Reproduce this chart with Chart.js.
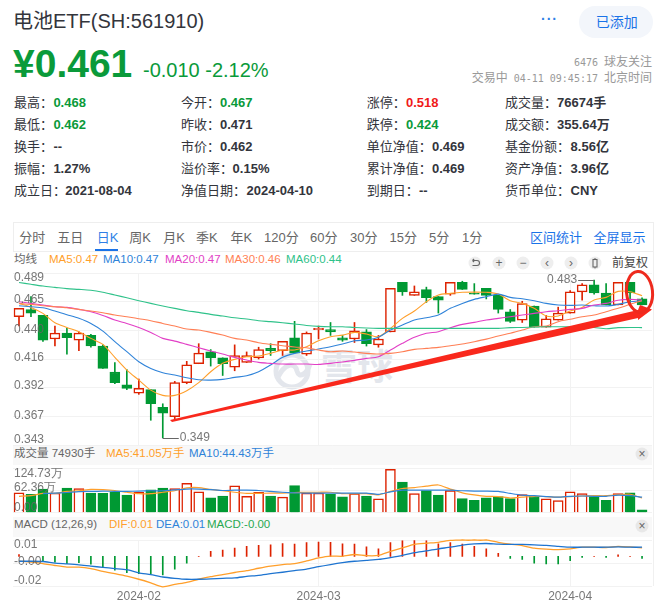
<!DOCTYPE html>
<html><head><meta charset="utf-8">
<script src="https://cdn.jsdelivr.net/npm/chart.js@4"></script>
<style>
html,body{margin:0;padding:0;background:#fff;width:669px;height:612px;overflow:hidden}
body{font-family:"Liberation Sans","Noto Sans CJK SC",sans-serif;color:#33353c;position:relative}
.t{position:absolute;white-space:nowrap;line-height:1;transform:translateY(-50%)}
canvas{position:absolute;left:0}
.ic{position:absolute;width:13px;height:13px;border-radius:50%;background:#eee;color:#666;font-size:12px;line-height:13px;text-align:center;transform:translate(-50%,-50%)}
</style></head><body>
<div id="ui"></div>
<script>
const dates=["2024-01-18","2024-01-19","2024-01-22","2024-01-23","2024-01-24","2024-01-25","2024-01-26","2024-01-29","2024-01-30","2024-01-31","2024-02-01","2024-02-02","2024-02-05","2024-02-06","2024-02-07","2024-02-08","2024-02-19","2024-02-20","2024-02-21","2024-02-22","2024-02-23","2024-02-26","2024-02-27","2024-02-28","2024-02-29","2024-03-01","2024-03-04","2024-03-05","2024-03-06","2024-03-07","2024-03-08","2024-03-11","2024-03-12","2024-03-13","2024-03-14","2024-03-15","2024-03-18","2024-03-19","2024-03-20","2024-03-21","2024-03-22","2024-03-25","2024-03-26","2024-03-27","2024-03-28","2024-03-29","2024-04-01","2024-04-02","2024-04-03","2024-04-08","2024-04-09","2024-04-10","2024-04-11"];
const candleOpen=[.452,.458,.453,.433,.438,.432,.436,.427,.405,.394,.387,.390,.375,.367,.396,.412,.422,.417,.409,.413,.417,.425,.423,.434,.420,.441,.441,.434,.433,.439,.428,.439,.481,.470,.475,.469,.471,.481,.472,.476,.470,.456,.449,.461,.443,.449,.455,.473,.479,.472,.462,.481,.467];
const candleClose=[.459,.455,.432,.438,.434,.438,.427,.408,.396,.391,.391,.378,.370,.396,.411,.421,.417,.412,.419,.419,.424,.423,.431,.421,.438,.442,.439,.432,.440,.429,.433,.476,.473,.473,.468,.466,.481,.475,.471,.470,.458,.448,.463,.443,.450,.455,.473,.479,.472,.462,.481,.472,.462];
const candleHigh=[.459,.469,.453,.444,.442,.439,.437,.428,.413,.407,.399,.390,.378,.397,.414,.429,.424,.417,.428,.422,.426,.429,.431,.448,.439,.444,.447,.436,.447,.441,.436,.476,.481,.478,.477,.469,.481,.482,.480,.476,.470,.458,.465,.461,.453,.460,.474,.480,.483,.480,.481,.481,.468];
const candleLow=[.444,.452,.431,.427,.420,.423,.426,.408,.395,.390,.386,.364,.349,.364,.395,.412,.410,.402,.406,.413,.416,.419,.419,.421,.419,.433,.436,.431,.430,.427,.426,.439,.470,.470,.464,.455,.470,.475,.471,.467,.455,.447,.447,.443,.443,.449,.455,.466,.471,.462,.462,.463,.462];
const ma5=[.4632,.4598,.4547,.4468,.4428,.4392,.4335,.4284,.4174,.4066,.3981,.3896,.3851,.3851,.3891,.3959,.4052,.4123,.4157,.4179,.4185,.4208,.4236,.4236,.4264,.4315,.4349,.4363,.4386,.4372,.4349,.4420,.4505,.4567,.4646,.4703,.4717,.4726,.4728,.4726,.4711,.4655,.4632,.4590,.4525,.4525,.4567,.4598,.4661,.4683,.4734,.4731,.4697];
const ma10=[.4612,.4604,.4595,.4567,.4536,.4505,.4462,.4397,.4307,.4222,.4137,.4080,.4044,.4024,.4001,.3984,.3981,.3987,.4004,.4018,.4052,.4109,.4174,.4208,.4228,.4245,.4264,.4287,.4315,.4321,.4344,.4406,.4448,.4491,.4510,.4533,.4590,.4632,.4666,.4689,.4711,.4683,.4672,.4655,.4632,.4618,.4615,.4618,.4612,.4610,.4624,.4646,.4655];
const ma20=[.4646,.4632,.4618,.4604,.4598,.4581,.4561,.4530,.4491,.4462,.4428,.4386,.4335,.4312,.4284,.4256,.4228,.4202,.4174,.4151,.4131,.4123,.4117,.4117,.4117,.4114,.4123,.4134,.4148,.4165,.4179,.4236,.4293,.4344,.4378,.4392,.4426,.4454,.4471,.4491,.4505,.4519,.4533,.4547,.4561,.4570,.4581,.4590,.4618,.4632,.4658,.4666,.4661];
const ma30=[.4632,.4624,.4612,.4604,.4595,.4581,.4567,.4553,.4533,.4519,.4502,.4485,.4462,.4440,.4414,.4406,.4386,.4363,.4335,.4321,.4298,.4284,.4273,.4262,.4256,.4236,.4222,.4228,.4219,.4208,.4202,.4208,.4222,.4242,.4250,.4259,.4273,.4287,.4307,.4329,.4355,.4378,.4406,.4434,.4440,.4477,.4497,.4519,.4533,.4561,.4590,.4624,.4655];
const ma60=[.4810,.4794,.4779,.4768,.4757,.4751,.4743,.4726,.4703,.4680,.4655,.4632,.4610,.4590,.4570,.4556,.4539,.4525,.4510,.4499,.4485,.4477,.4468,.4457,.4445,.4437,.4434,.4434,.4428,.4423,.4420,.4420,.4420,.4420,.4420,.4420,.4420,.4420,.4420,.4420,.4420,.4426,.4428,.4431,.4434,.4434,.4434,.4434,.4428,.4417,.4426,.4428,.4426];
const volume=[55.9,51.8,66.4,55.1,68.9,68.0,55.1,54.3,58.3,49.4,57.5,64.0,68.9,68.0,82.6,58.3,42.1,47.0,75.3,46.2,57.5,47.0,43.7,76.1,55.1,55.1,51.8,44.6,53.5,47.0,38.9,121.5,85.9,53.5,62.4,49.4,62.4,39.7,34.8,42.1,45.4,39.7,51.0,47.0,38.9,34.0,58.3,53.5,45.4,34.8,53.5,55.9,8.1];
const volMa5=[46.2,47.8,54.3,54.3,59.9,61.6,65.6,64.8,62.4,57.5,53.5,53.5,57.5,61.6,69.7,70.5,65.6,61.6,57.5,54.3,54.3,55.1,55.1,56.7,57.5,57.5,57.5,53.5,53.5,53.5,50.2,59.9,68.0,70.5,74.5,77.8,66.4,55.9,50.2,46.2,45.4,41.3,43.7,46.2,45.4,43.7,45.4,47.0,47.8,47.8,50.2,51.8,41.3];
const volMa10=[null,null,53.5,55.1,56.7,59.1,59.9,60.8,59.9,59.9,60.8,61.6,61.6,64.0,66.4,66.4,64.8,62.4,63.2,63.2,62.4,59.9,57.5,55.9,55.1,55.1,55.1,55.1,55.1,55.1,51.8,58.3,63.2,63.2,63.2,63.2,63.2,61.6,60.8,60.8,59.9,54.3,49.4,47.8,45.4,43.7,46.2,47.0,46.2,46.2,49.4,47.8,43.7];
const macdHist=[.0014,0,-.0039,-.0044,-.0055,-.0048,-.0060,-.0078,-.0104,-.0124,-.0131,-.0131,-.0140,-.0097,-.0051,0,.0037,.0048,.0062,.0076,.0083,.0087,.0097,.0092,.0104,.0108,.0106,.0094,.0092,.0071,.0057,.0104,.0120,.0122,.0120,.0094,.0104,.0092,.0076,.0057,.0023,-.0016,-.0023,-.0051,-.0057,-.0057,-.0032,-.0009,0,-.0009,.0012,0,-.0016];
const macdDif=[-.0037,-.0044,-.0055,-.0069,-.0081,-.0081,-.0092,-.0113,-.0131,-.0150,-.0173,-.0200,-.0230,-.0212,-.0196,-.0173,-.0154,-.0138,-.0122,-.0108,-.0090,-.0074,-.0062,-.0055,-.0035,-.0012,.0002,0,.0014,.0005,.0007,.0037,.0064,.0090,.0099,.0106,.0120,.0124,.0124,.0124,.0106,.0092,.0081,.0062,.0055,.0051,.0057,.0069,.0069,.0067,.0076,.0071,.0064];
const macdDea=[-.0037,-.0037,-.0039,-.0051,-.0057,-.0064,-.0074,-.0083,-.0092,-.0101,-.0124,-.0138,-.0156,-.0166,-.0173,-.0173,-.0170,-.0166,-.0163,-.0152,-.0143,-.0131,-.0120,-.0108,-.0097,-.0078,-.0062,-.0048,-.0037,-.0030,-.0023,-.0009,.0007,.0028,.0041,.0057,.0069,.0085,.0094,.0097,.0092,.0090,.0090,.0087,.0083,.0076,.0069,.0069,.0069,.0069,.0071,.0069,.0069];
const priceTicks=[.343,.367,.392,.416,.440,.465,.489];
const priceTickLabels=["0.343","0.367","0.392","0.416","0.440","0.465","0.489"];
const volTicks=[0,62.36,124.73];
const volTickLabels=["0.00","62.36万","124.73万"];
const macdTicks=[-.0224,-.0051,.0122];
const macdTickLabels=["-0.02","-0.00","0.01"];
const extremes=[{i:12,v:.349,text:"0.349",side:1},{i:48,v:.483,text:"0.483",side:-1}];

const RED="#dd2200",GREEN="#009933",GRID="#f2f2f2",AXIS="rgba(100,100,100,.88)";
const COL={ma5:"#ff9f2b",ma10:"#2f83d9",ma20:"#e23fc6",ma30:"#ff7f55",ma60:"#2fc28a"};
const isUp=i=>candleClose[i]>=candleOpen[i];
const pts=a=>a.map((y,x)=>({x,y}));
const monthIdx=dates.map((d,i)=>(i&&d.slice(5,7)!==dates[i-1].slice(5,7))?i:-1).filter(i=>i>=0);

const tickShift={id:"tickShift",beforeDraw(c,a,o){
  if(!o.offsets)return;
  c.scales.y.getLabelItems(c.chartArea).forEach((it,i)=>{it.options.translation=[it.options.translation[0],it.options.translation[1]+o.offsets[i]];});
}};
const extremeMarks={id:"extremeMarks",afterDatasetsDraw(c,a,o){
  if(!o.items)return;const x=c.scales.x,y=c.scales.y,g=c.ctx;g.save();
  g.font='12px "Liberation Sans"';g.fillStyle=AXIS;g.strokeStyle="#666";g.lineWidth=1;g.textBaseline="middle";
  o.items.forEach(m=>{const px=x.getPixelForValue(m.i),py=Math.round(y.getPixelForValue(m.v))+.5,e=px+m.side*16;
    g.beginPath();g.moveTo(px,py);g.lineTo(e,py);g.stroke();
    g.textAlign=m.side>0?"left":"right";g.fillText(m.text,e+m.side,py-1);});
  g.restore();
}};
function line(data,color,w,extra){return Object.assign({type:"line",data:pts(data),borderColor:color,borderWidth:w||1.1,pointRadius:0,tension:.3,order:0},extra||{});}
function options(min,max,ticks,labels,offsets,pad,showX,extraPlugins){
  return {animation:false,responsive:false,devicePixelRatio:1,
    layout:{autoPadding:false,padding:pad},
    plugins:Object.assign({legend:{display:false},tooltip:{enabled:false},tickShift:{offsets}},extraPlugins||{}),
    scales:{
      x:{type:"linear",min:-.5,max:52.83,offset:false,
        grid:{color:GRID,drawTicks:false,offset:false},border:{display:false},
        afterBuildTicks:s=>{s.ticks=monthIdx.map(value=>({value}));},
        afterFit:s=>{s.height=showX?26:0;},
        ticks:{display:showX,autoSkip:false,maxRotation:0,padding:3,color:AXIS,font:{size:12,family:'"Liberation Sans"'},
          callback:v=>dates[v].slice(0,7)}},
      y:{type:"linear",min,max,
        grid:{color:GRID,drawTicks:false},border:{display:false},
        afterBuildTicks:s=>{s.ticks=ticks.map(value=>({value}));},
        ticks:{mirror:true,autoSkip:false,padding:1,z:1,color:AXIS,font:{size:12,family:'"Liberation Sans"'},
          callback:(v,i)=>labels[i]}}
    }};
}
function addCanvas(top,h){const c=document.createElement("canvas");c.width=669;c.height=h;c.style.top=top+"px";c.style.width="669px";c.style.height=h+"px";document.body.appendChild(c);return c;}

const ui=document.getElementById("ui");
function T(x,y,s,txt,css){const d=document.createElement("div");d.className="t";d.style.cssText=`left:${x}px;top:${y}px;font-size:${s}px;${css||""}`;d.innerHTML=txt;ui.appendChild(d);return d;}
function box(css){const d=document.createElement("div");d.style.cssText="position:absolute;"+css;ui.appendChild(d);return d;}
T(13,21,20,"电池ETF(SH:561910)");
T(541,19,14,"···","color:#2f7fe6;font-weight:bold;letter-spacing:1px");
box("left:579px;top:6px;width:74px;height:32px;border-radius:16px;background:#f3f6fb");
T(595.7,22,14,"已添加","color:#1a73e8");
T(13,63,39,"¥0.461","font-weight:bold;color:#0a9a3a");
T(143,70,20,"-0.010 -2.12%","color:#0a9a3a");
const mono='font-family:"DejaVu Sans Mono";font-size:10px';
T(0,62,12,`<span style='${mono};margin-right:6px'>6476</span>球友关注`,"color:#999;left:auto;right:17px");
T(0,78,12,`交易中<span style='${mono};margin:0 6px'>04-11 09:45:17</span>北京时间`,"color:#999;left:auto;right:17px");
const stats=[
 [14,53.4,102,"最高：","0.468","g"],[14,53.4,124,"最低：","0.462","g"],[14,53.4,146,"换手：","--",""],[14,53.4,168,"振幅：","1.27%",""],[14,65.3,190,"成立日：","2021-08-04",""],
 [181,220,102,"今开：","0.467","g"],[181,220,124,"昨收：","0.471",""],[181,220,146,"市价：","0.462",""],[181,232.6,168,"溢价率：","0.15%",""],[181,246.5,190,"净值日期：","2024-04-10",""],
 [366.8,406,102,"涨停：","0.518","r"],[366.8,406,124,"跌停：","0.424","g"],[366.8,432,146,"单位净值：","0.469",""],[366.8,432,168,"累计净值：","0.469",""],[366.8,419,190,"到期日：","--",""],
 [505,557,102,"成交量：","76674手",""],[505,557,124,"成交额：","355.64万",""],[505,570.6,146,"基金份额：","8.56亿",""],[505,570.6,168,"资产净值：","3.96亿",""],[505,570.6,190,"货币单位：","CNY",""]];
stats.forEach(s=>{T(s[0],s[2],13,s[3]);T(s[1],s[2],13,s[4],"font-weight:bold;"+(s[5]==="g"?"color:#0a9a3a":s[5]==="r"?"color:#f01a1a":""));});
box("left:13px;top:222px;width:639px;height:28px;border:1px solid #eee");
const tabs=[[19.3,"分时"],[57.3,"五日"],[96.7,"日K"],[129.3,"周K"],[163.3,"月K"],[196,"季K"],[230.5,"年K"],[264,"120分"],[310,"60分"],[350,"30分"],[389.6,"15分"],[429,"5分"],[462,"1分"]];
tabs.forEach(t=>T(t[0],237,13,t[1],"color:"+(t[1]==="日K"?"#2f7fe6":"#666")));
box("left:95px;top:248.5px;width:23px;height:2px;background:#1a73e8");
T(530,237,13,"区间统计","color:#1a73e8");T(593.6,237,13,"全屏显示","color:#1a73e8");
box("left:13px;top:445px;width:639px;height:20px;background:#f8f8f8");
box("left:13px;top:516.5px;width:639px;height:20.5px;background:#f8f8f8");
box("left:652.5px;top:250px;width:1px;height:336px;background:#f0f0f0");
const wm=box("left:273px;top:352px;width:40px;height:38px");
wm.innerHTML='<svg width="40" height="38" viewBox="0 0 40 38"><circle cx="19" cy="19" r="16" fill="none" stroke="#e3e6ec" stroke-width="5"/><path d="M4 27 C12 10 22 10 24 19 C26 27 34 22 37 12" fill="none" stroke="#e3e6ec" stroke-width="5"/></svg>';
T(321,368,36,"雪球","color:#e3e6ec;font-weight:bold");
T(14,260,11.5,"均线","color:#666");
[[49,"MA5:0.47",COL.ma5],[103,"MA10:0.47",COL.ma10],[165,"MA20:0.47",COL.ma20],[225,"MA30:0.46",COL.ma30],[286,"MA60:0.44",COL.ma60]].forEach(m=>T(m[0],260,11.5,m[1],"color:"+m[2]));
T(14,454,11.5,"成交量 74930手","color:#666");
T(106,454,11.5,"MA5:41.05万手","color:"+COL.ma5);T(189,454,11.5,"MA10:44.43万手","color:"+COL.ma10);
T(14,525,11.5,"MACD (12,26,9)","color:#666");
T(109,525,11.5,"DIF:0.01","color:"+COL.ma5);T(156,525,11.5,"DEA:0.01","color:"+COL.ma10);T(207,525,11.5,"MACD:-0.00","color:#2aa952");
const undo='<svg width="13" height="13" viewBox="0 0 13 13"><path d="M4 4h4.5a2.5 2.5 0 0 1 0 5H4M4 4l1.6-1.5M4 4l1.6 1.5" fill="none" stroke="#666" stroke-width="1.1"/></svg>';
const cand='<svg width="13" height="13" viewBox="0 0 13 13"><rect x="4.5" y="3" width="4" height="7.5" fill="none" stroke="#666" stroke-width="1.1"/><path d="M6.5 1.5V3M6.5 10.5V12" stroke="#666"/></svg>';
[[475,undo],[499,"+"],[523,"−"],[547,"‹"],[571,"›"],[595,cand]].forEach(i=>{const d=document.createElement("div");d.className="ic";d.style.cssText=`left:${i[0]}px;top:263px`;d.innerHTML=i[1];ui.appendChild(d);});
T(612,263,12,"前复权","color:#444");
[454,526].forEach(y=>{const d=document.createElement("div");d.className="ic";d.style.cssText=`left:642px;top:${y}px;background:#e8e8e8`;d.innerHTML="×";ui.appendChild(d);});

new Chart(addCanvas(263,192),{type:"bar",plugins:[tickShift,extremeMarks],
  data:{datasets:[
    line(ma60,COL.ma60),line(ma30,COL.ma30),line(ma20,COL.ma20),line(ma10,COL.ma10),line(ma5,COL.ma5),
    {type:"bar",order:1,grouped:false,barThickness:10,borderWidth:1.5,borderSkipped:false,
     data:candleOpen.map((o,x)=>({x,y:[o,candleClose[x]]})),
     backgroundColor:candleOpen.map((o,i)=>isUp(i)?"#fff":GREEN),
     borderColor:candleOpen.map((o,i)=>isUp(i)?RED:GREEN)},
    {type:"bar",order:2,grouped:false,barThickness:1,borderWidth:0,
     data:candleLow.map((l,x)=>({x,y:[l,candleHigh[x]]})),
     backgroundColor:candleOpen.map((o,i)=>isUp(i)?RED:GREEN)}
  ]},
  options:options(.343,.489,priceTicks,priceTickLabels,[-5,-1.5,-2,-1,-1,-1.5,5],{left:11,right:17,top:10,bottom:10},false,{extremeMarks:{items:extremes}})
});
new Chart(addCanvas(460,61),{type:"bar",plugins:[tickShift],
  data:{datasets:[
    line(volMa10,COL.ma10,1.2,{tension:.2}),line(volMa5,COL.ma5,1.2,{tension:.2}),
    {type:"bar",order:1,grouped:false,barThickness:10,borderWidth:{top:1.5,left:1.5,right:1.5,bottom:0},borderSkipped:false,
     data:pts(volume),
     backgroundColor:volume.map((o,i)=>isUp(i)?"#fff":GREEN),
     borderColor:volume.map((o,i)=>isUp(i)?RED:GREEN)}
  ]},
  options:options(0,124.73,volTicks,volTickLabels,[-5.6,-2.4,5],{left:11,right:17,top:5,bottom:4.7},false)
});
new Chart(addCanvas(532,80),{type:"bar",plugins:[tickShift],
  data:{datasets:[
    line(macdDea,"#1e74d0",1.3,{clip:false,tension:.2}),line(macdDif,COL.ma5,1.3,{clip:false,tension:.2}),
    {type:"bar",order:1,grouped:false,barThickness:1,borderWidth:0,
     data:pts(macdHist),
     backgroundColor:macdHist.map(v=>v>=0?RED:GREEN)}
  ]},
  options:options(-.0224,.0122,macdTicks,macdTickLabels,[-5,-1.3,4],{left:11,right:17,top:5,bottom:0},true)
});
const ov=document.createElementNS("http://www.w3.org/2000/svg","svg");
ov.setAttribute("width",669);ov.setAttribute("height",612);ov.style.cssText="position:absolute;left:0;top:0;pointer-events:none";
ov.innerHTML='<polygon points="170,420 638,310 640,305 652,309.5 638,320 638,318 172,422" fill="#f9281c"/><ellipse cx="639.5" cy="292" rx="13" ry="20.5" fill="none" stroke="#ee2a1d" stroke-width="3" transform="rotate(-6 639.5 292)"/>';
document.body.appendChild(ov);
</script>
</body></html>
